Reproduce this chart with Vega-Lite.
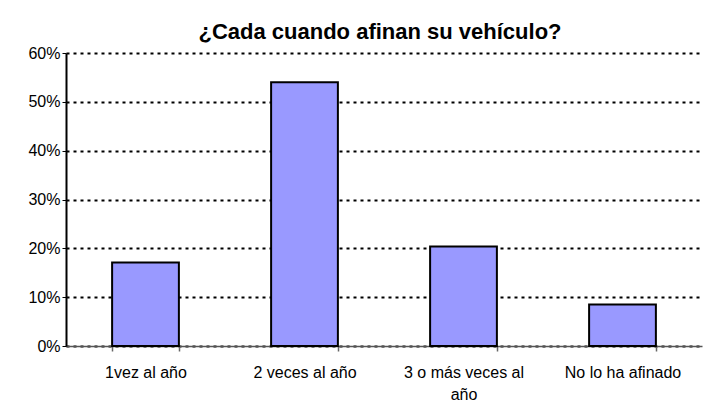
{
  "$schema": "https://vega.github.io/schema/vega-lite/v6.json",
  "width": 636,
  "height": 293,
  "autosize": {"type": "none"},
  "padding": {"left": 66, "top": 53, "right": 1, "bottom": 64},
  "background": "white",
  "title": {
    "text": "¿Cada cuando afinan su vehículo?",
    "font": "Liberation Sans",
    "fontSize": 22,
    "fontWeight": "bold",
    "color": "black",
    "anchor": "middle",
    "dx": -4,
    "offset": 1
  },
  "data": {
    "values": [
      {"cat": "1vez al año", "pct": 0.171},
      {"cat": "2 veces al año", "pct": 0.540},
      {"cat": "3 o más veces al año", "pct": 0.204},
      {"cat": "No lo ha afinado", "pct": 0.085}
    ]
  },
  "mark": {"type": "bar", "color": "#9999FF", "stroke": "black", "strokeWidth": 2},
  "encoding": {
    "x": {
      "field": "cat",
      "type": "nominal",
      "sort": null,
      "scale": {"paddingInner": 0.58, "paddingOuter": 0.29},
      "axis": {
        "title": null,
        "labelAngle": 0,
        "labelFont": "Liberation Sans",
        "labelFontSize": 16,
        "labelColor": "black",
        "labelPadding": 13,
        "labelLineHeight": 22,
        "labelExpr": "datum.label == '3 o más veces al año' ? ['3 o más veces al', 'año'] : datum.label",
        "tickBand": "extent",
        "tickSize": 5,
        "tickColor": "#666666",
        "tickWidth": 1.5,
        "domainColor": "#555555",
        "domainWidth": 1.5,
        "grid": false
      }
    },
    "y": {
      "field": "pct",
      "type": "quantitative",
      "scale": {"domain": [0, 0.6], "nice": false},
      "axis": {
        "title": null,
        "format": ".0%",
        "values": [0, 0.1, 0.2, 0.3, 0.4, 0.5, 0.6],
        "labelOverlap": false,
        "labelFont": "Liberation Sans",
        "labelFontSize": 16,
        "labelColor": "black",
        "labelPadding": 2,
        "tickSize": 4,
        "tickColor": "black",
        "domainColor": "black",
        "domainWidth": 2,
        "grid": true,
        "gridColor": "black",
        "gridWidth": 2,
        "gridDash": [3, 4]
      }
    }
  },
  "config": {
    "view": {"stroke": null}
  }
}
